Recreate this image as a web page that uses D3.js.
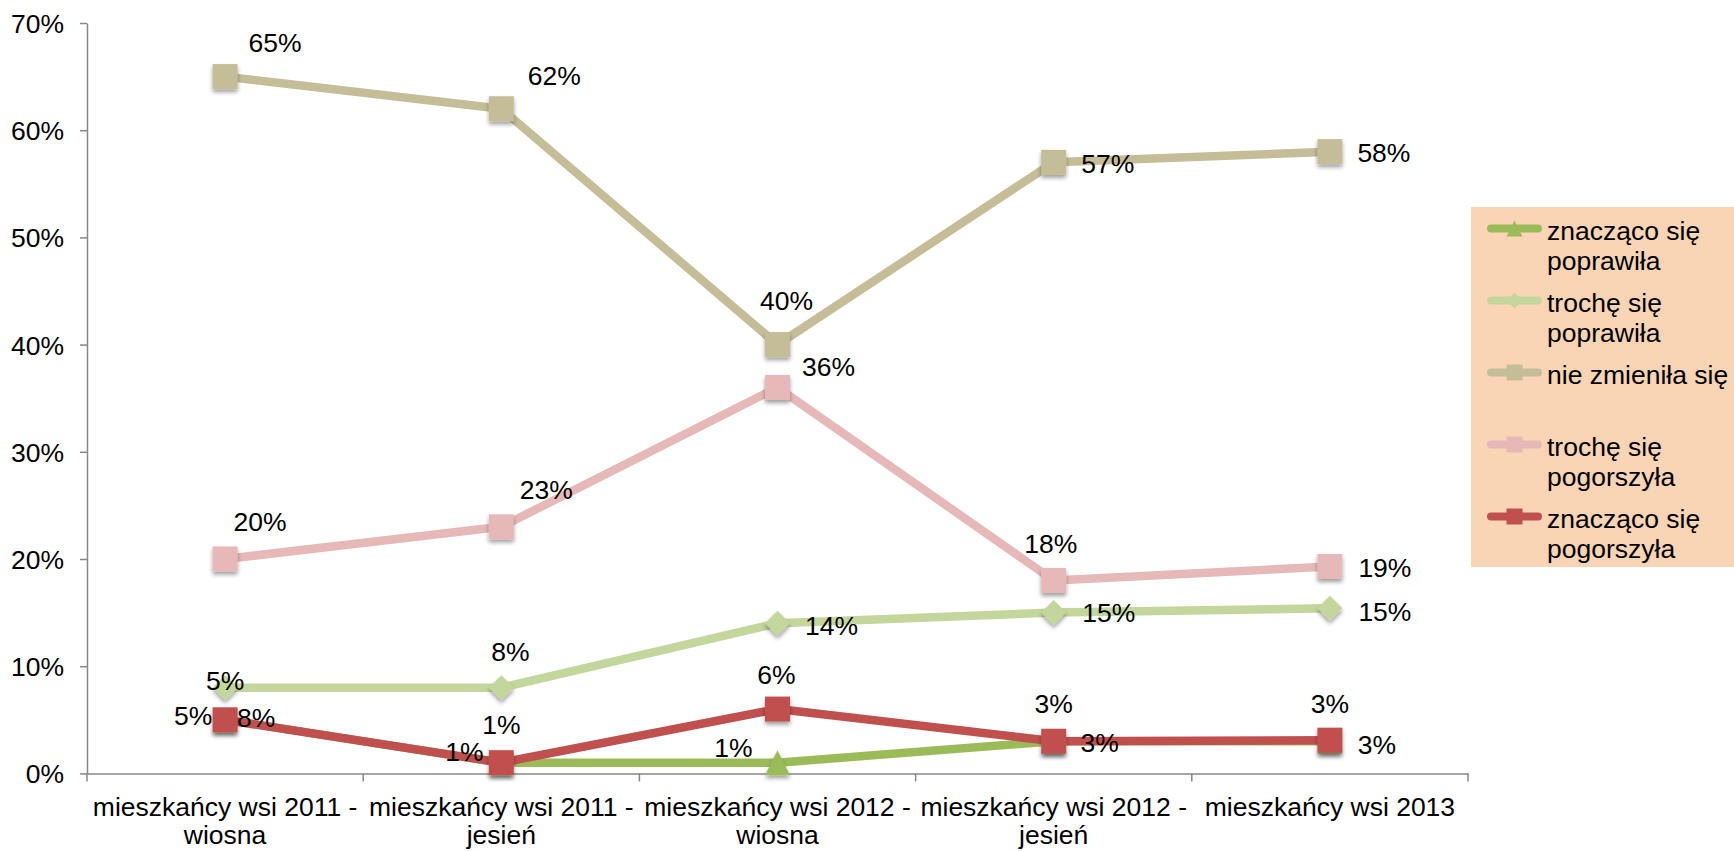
<!DOCTYPE html>
<html>
<head>
<meta charset="utf-8">
<script src="https://cdn.jsdelivr.net/npm/d3@7"></script>
<style>
  body { margin: 0; background: #ffffff; }
  text { font-family: "Liberation Sans", Arial, Helvetica, sans-serif; fill: #000; }
</style>
</head>
<body>
<svg id="chart" width="1734" height="851"></svg>
<script>
// ---------------- DATA ----------------
const categories = [
  "mieszkańcy wsi 2011 - wiosna",
  "mieszkańcy wsi 2011 - jesień",
  "mieszkańcy wsi 2012 - wiosna",
  "mieszkańcy wsi 2012 - jesień",
  "mieszkańcy wsi 2013"
];
const seriesNames = [
  "znacząco się poprawiła",
  "trochę się poprawiła",
  "nie zmieniła się",
  "trochę się pogorszyła",
  "znacząco się pogorszyła"
];
const znaczacoPoprawila  = [0.05, 0.01, 0.01, 0.03, 0.03];
const trochePoprawila    = [0.08, 0.08, 0.14, 0.15, 0.154];
const nieZmienila        = [0.65, 0.62, 0.40, 0.57, 0.58];
const trochePogorszyla   = [0.20, 0.23, 0.36, 0.18, 0.193];
const znaczacoPogorszyla = [0.05, 0.01, 0.06, 0.03, 0.031];
const yTickValues = [0, 0.1, 0.2, 0.3, 0.4, 0.5, 0.6, 0.7];
const legendLines = [
  ["znacząco się", "poprawiła"],
  ["trochę się", "poprawiła"],
  ["nie zmieniła się", ""],
  ["trochę się", "pogorszyła"],
  ["znacząco się", "pogorszyła"]
];

// ---------------- STYLE ----------------
const seriesValues = [znaczacoPoprawila, trochePoprawila, nieZmienila, trochePogorszyla, znaczacoPogorszyla];
const seriesColors = ["#9BBB59", "#C3D69B", "#C4BD97", "#E6B9B8", "#C0504D"];
const seriesMarkers = ["triangle", "diamond", "square", "square", "square"];
// data label offsets (px) relative to each point
const labelOffsets = [
  [[-32, -4], [-37, -11], [-44, -15], [46, 1], [47, 3]],
  [[31, 30], [9, -36], [54, 2], [55, 0], [55, 3]],
  [[50, -34], [53, -33], [9, -44], [54, 1], [54, 1]],
  [[35, -38], [45, -37], [51, -21], [-3, -37], [55, 1]],
  [[0, -39], [0, -38], [-1, -35], [0, -38], [0, -37]]
];
const FONT = 26.5;
const axisColor = "#878787";

const svg = d3.select("#chart");
const defs = svg.append("defs");
const f = defs.append("filter").attr("id", "shadow")
  .attr("x", "-50%").attr("y", "-50%").attr("width", "200%").attr("height", "200%");
f.append("feDropShadow").attr("dx", 0).attr("dy", 3).attr("stdDeviation", 2)
  .attr("flood-color", "#000").attr("flood-opacity", 0.38);

const x = d3.scaleBand().domain(categories).range([87, 1468]).padding(0);
const y = d3.scaleLinear().domain([0, 0.7]).range([773.4, 23]);
const cx = c => x(c) + x.bandwidth() / 2;

function markerPath(type, s) {
  const h = s / 2;
  if (type === "square") return `M${-h},${-h}H${h}V${h}H${-h}Z`;
  if (type === "diamond") return `M0,${-h}L${h},0L0,${h}L${-h},0Z`;
  if (type === "triangle") return `M0,${-h}L${h},${h}L${-h},${h}Z`;
  return "";
}

// ---------------- AXES ----------------
const yAxis = d3.axisLeft(y).tickValues(yTickValues).tickFormat(d3.format(".0%"))
  .tickSize(7).tickSizeOuter(0).tickPadding(16);
const gy = svg.append("g").attr("transform", `translate(${x.range()[0]},0)`).call(yAxis);
gy.selectAll("path,line").attr("stroke", axisColor).attr("stroke-width", 1.5);
gy.selectAll("text").attr("font-size", FONT).attr("font-family", '"Liberation Sans", Arial, sans-serif')
  .attr("fill", "#000").attr("dy", "0.36em");

const xAxis = d3.axisBottom(x).tickSize(0).tickSizeOuter(0);
const gx = svg.append("g").attr("transform", `translate(0,${y(0)})`).call(xAxis);
gx.select(".domain").attr("stroke", axisColor).attr("stroke-width", 1.5);
// boundary ticks
const bounds = categories.map(c => x(c)).concat([x.range()[1]]);
gx.selectAll(".btick").data(bounds).enter().append("line")
  .attr("class", "btick").attr("x1", d => d).attr("x2", d => d)
  .attr("y1", 0).attr("y2", 8).attr("stroke", axisColor).attr("stroke-width", 1.5);
gx.selectAll(".tick text").each(function(d) {
  const t = d3.select(this);
  t.text(null).attr("y", null).attr("dy", null)
    .attr("font-size", FONT).attr("font-family", '"Liberation Sans", Arial, sans-serif').attr("fill", "#000");
  const idx = d.indexOf(" - ");
  const lines = idx >= 0 ? [d.slice(0, idx + 2), d.slice(idx + 3)] : [d];
  lines.forEach((ln, i) => {
    t.append("tspan").attr("x", 0).attr("y", 43 + i * 28).text(ln);
  });
});

// ---------------- SERIES ----------------
const line = d3.line().x((d, i) => cx(categories[i])).y(d => y(d));
seriesValues.forEach((vals, s) => {
  const g = svg.append("g");
  g.append("path").datum(vals).attr("d", line)
    .attr("fill", "none").attr("stroke", seriesColors[s]).attr("stroke-width", 8.5)
    .attr("stroke-linejoin", "round").attr("stroke-linecap", "round");
  g.selectAll(".m").data(vals).enter().append("path")
    .attr("class", "m")
    .attr("d", markerPath(seriesMarkers[s], 25))
    .attr("transform", (d, i) => `translate(${cx(categories[i])},${y(d)})`)
    .attr("fill", seriesColors[s]).attr("filter", "url(#shadow)");
});

// data labels
const fmt = d3.format(".0%");
seriesValues.forEach((vals, s) => {
  svg.append("g").selectAll("text").data(vals).enter().append("text")
    .attr("x", (d, i) => cx(categories[i]) + labelOffsets[s][i][0])
    .attr("y", (d, i) => y(d) + labelOffsets[s][i][1])
    .attr("dy", "0.36em").attr("text-anchor", "middle")
    .attr("font-size", FONT).text(d => fmt(d));
});

// ---------------- LEGEND ----------------
const lg = svg.append("g");
lg.append("rect").attr("x", 1471).attr("y", 207).attr("width", 263).attr("height", 360).attr("fill", "#FAD5B5");
const legendY = d3.scalePoint().domain(seriesNames).range([228.5, 516.5]);
seriesNames.forEach((name, s) => {
  const yy = legendY(name);
  lg.append("line").attr("x1", 1491).attr("x2", 1538).attr("y1", yy).attr("y2", yy)
    .attr("stroke", seriesColors[s]).attr("stroke-width", 8).attr("stroke-linecap", "round");
  lg.append("path").attr("d", markerPath(seriesMarkers[s], 16))
    .attr("transform", `translate(1514.5,${yy})`).attr("fill", seriesColors[s]);
  const t = lg.append("text").attr("font-size", FONT);
  legendLines[s].forEach((ln, i) => {
    t.append("tspan").attr("x", 1547).attr("y", yy + 11.5 + i * 30).text(ln);
  });
});
</script>
</body>
</html>
